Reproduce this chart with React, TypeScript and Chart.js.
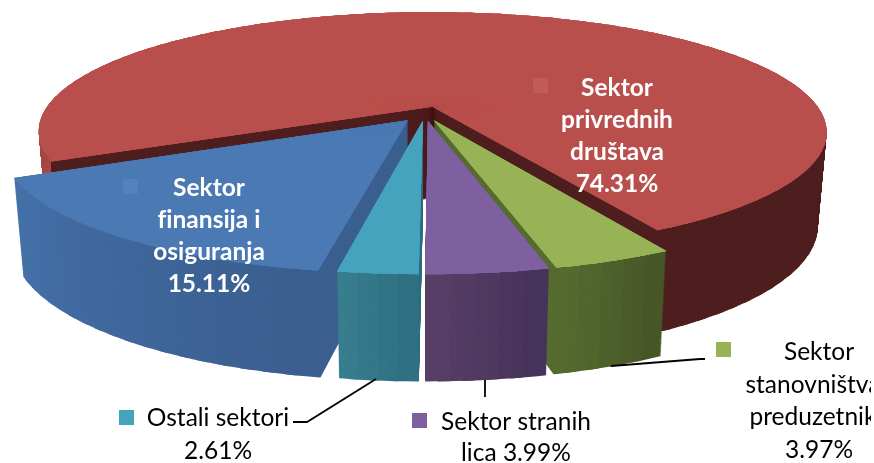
import React, { useEffect, useRef } from "react";
import { Chart, registerables } from "chart.js";

Chart.register(...registerables);

const categories = ["Sektor privrednih društava", "Sektor stanovništva i preduzetnika", "Sektor stranih lica", "Ostali sektori", "Sektor finansija i osiguranja"];
const shares = [74.31, 3.97, 3.99, 2.61, 15.11];
const topColors = ["#b94f4c", "#97b356", "#7e60a0", "#46a3bd", "#4a79b3"];
const sideLeft = ["#4f1f1f", "#576d30", "#5a4068", "#398090", "#4572aa"];
const sideRight = ["#4f1f1f", "#465527", "#45335a", "#2e6e80", "#3b5e8e"];
const explodeBy = [0.062, 0.062, 0.062, 0.062, 0.072];
const paintOrder = [0, 4, 1, 2, 3];
const startDegrees = 244.2;

// Perspective camera used for the tilted, exploded disc
const view = { cx: 425, cy: 113.5, ax: 390, ay: 117.3, tilt: 0.212, depth: 92, depthPower: 0.6, converge: 0.022 };
const wedgeStep = (3 * Math.PI) / 180;
const layers = 120;
const paleRimColor = "#a84846";
const paleRimRight = 51;

const project = (u: number, v: number, z: number) => {
  const w = 1 - view.tilt * v;
  const s = 1 - view.converge * z;
  return [view.cx + (view.ax * u * s) / w, view.cy + (view.ay * v) / w + (view.depth * z) / Math.pow(w, view.depthPower)];
};

const mix = (a: string, b: string, t: number) => {
  const n = (h: string, i: number) => parseInt(h.slice(i, i + 2), 16);
  const c = [1, 3, 5].map((i) => Math.round(n(a, i) + (n(b, i) - n(a, i)) * t));
  return `rgb(${c[0]},${c[1]},${c[2]})`;
};

const drawSlab = (chart: any, ctx: CanvasRenderingContext2D, index: number) => {
  const arc = chart.getDatasetMeta(0).data[index];
  const saved = { s: arc.startAngle, e: arc.endAngle, c: arc.circumference, o: arc.options };
  const { x: cx, y: cy, outerRadius: R } = arc;
  const mid = (saved.s + saved.e) / 2;
  const eu = Math.cos(mid) * explodeBy[index];
  const ev = Math.sin(mid) * explodeBy[index];
  const count = Math.max(2, Math.ceil((saved.e - saved.s) / wedgeStep));
  const step = (saved.e - saved.s) / count;

  const paint = (a0: number, a1: number, z: number, color: string) => {
    const o = project(eu, ev, z);
    const p0 = project(eu + Math.cos(a0), ev + Math.sin(a0), z);
    const p1 = project(eu + Math.cos(a1), ev + Math.sin(a1), z);
    const d0 = [p0[0] - o[0], p0[1] - o[1]];
    const d1 = [p1[0] - o[0], p1[1] - o[1]];
    const det = Math.cos(a0) * Math.sin(a1) - Math.sin(a0) * Math.cos(a1);
    const X = [(d0[0] * Math.sin(a1) - d1[0] * Math.sin(a0)) / det, (d0[1] * Math.sin(a1) - d1[1] * Math.sin(a0)) / det];
    const Y = [(Math.cos(a0) * d1[0] - Math.cos(a1) * d0[0]) / det, (Math.cos(a0) * d1[1] - Math.cos(a1) * d0[1]) / det];
    ctx.save();
    ctx.transform(X[0] / R, X[1] / R, Y[0] / R, Y[1] / R, o[0] - (X[0] * cx + Y[0] * cy) / R, o[1] - (X[1] * cx + Y[1] * cy) / R);
    const end = Math.min(a1 + step * 0.5, saved.e);
    arc.startAngle = a0;
    arc.endAngle = end;
    arc.circumference = end - a0;
    arc.options = { backgroundColor: color, borderColor: color, borderWidth: 0, offset: 0, spacing: 0, circular: true, borderAlign: "center", borderRadius: 0, borderJoinStyle: "round", borderDash: [], borderDashOffset: 0, selfJoin: false };
    arc.draw(ctx);
    ctx.restore();
  };

  for (let l = layers; l >= 1; l--) {
    const z = l / layers;
    for (let i = 0; i < count; i++) {
      const a0 = saved.s + i * step;
      paint(a0, a0 + step, z, mix(sideLeft[index], sideRight[index], 1 - (i + 0.5) / count));
    }
  }
  if (index === 0) {
    // the far-left part of the large slice's wall catches the light
    ctx.save();
    ctx.beginPath();
    ctx.rect(0, 0, paleRimRight, 463);
    ctx.clip();
    for (let l = layers; l >= 1; l--) {
      for (let i = 0; i < count; i++) {
        const a0 = saved.s + i * step;
        if ((i + 0.5) / count < 0.2) paint(a0, a0 + step, l / layers, paleRimColor);
      }
    }
    ctx.restore();
  }
  for (let pass = 0; pass < 3; pass++) {
    for (let i = 0; i < count; i++) {
      const a0 = saved.s + i * step;
      paint(a0, a0 + step, 0, topColors[index]);
    }
  }
  arc.startAngle = saved.s;
  arc.endAngle = saved.e;
  arc.circumference = saved.c;
  arc.options = saved.o;
};

const whiteFont = "bold 24.5px Lato";
const blackFont = "24.5px Lato";
const insideLabels = [
  { lines: ["Sektor", "privrednih", "društava", "74.31%"], x: 617, y: 88, key: 540, keyY: 85, keyColor: "#bf5b58" },
  { lines: ["Sektor", "finansija i", "osiguranja", "15.11%"], x: 209, y: 188, key: 130, keyY: 186, keyColor: "#5282bb" },
];
const outsideLabels = [
  { lines: ["Sektor", "stanovništva i", "preduzetnika", "3.97%"], x: 819, y: 352, key: 723, keyY: 349, keyColor: topColors[1], gap: 32.7 },
  { lines: ["Sektor stranih", "lica 3.99%"], x: 516, y: 422, key: 419, keyY: 420, keyColor: topColors[2], gap: 31 },
  { lines: ["Ostali sektori", "2.61%"], x: 218, y: 418, key: 126, keyY: 417, keyColor: topColors[3], gap: 33 },
];
const leaders = [
  [[611, 366], [700, 359], [705, 359]],
  [[485, 380], [485, 397]],
  [[376, 379], [307, 422], [293, 422]],
];

const slabs = {
  id: "slabs",
  beforeDatasetDraw: () => false,
  afterDatasetsDraw(chart: any) {
    const ctx: CanvasRenderingContext2D = chart.ctx;
    paintOrder.forEach((i) => drawSlab(chart, ctx, i));

    ctx.save();
    ctx.strokeStyle = "#000";
    ctx.lineWidth = 1.8;
    leaders.forEach((path) => {
      ctx.beginPath();
      path.forEach(([x, y], i) => (i ? ctx.lineTo(x, y) : ctx.moveTo(x, y)));
      ctx.stroke();
    });
    ctx.restore();

    ctx.save();
    ctx.beginPath();
    ctx.rect(0, 0, 871, 463);
    ctx.clip();
    ctx.textAlign = "center";
    ctx.textBaseline = "middle";
    (ctx as any).textRendering = "optimizeSpeed";
    insideLabels.forEach((b) => {
      ctx.fillStyle = b.keyColor;
      ctx.fillRect(b.key - 7, b.keyY - 7, 15, 15);
      ctx.fillStyle = "#fff";
      ctx.font = whiteFont;
      b.lines.forEach((t, i) => ctx.fillText(t, b.x, b.y + i * 32));
    });
    outsideLabels.forEach((b) => {
      ctx.fillStyle = b.keyColor;
      ctx.fillRect(b.key - 7, b.keyY - 7, 15, 15);
      ctx.fillStyle = "#000";
      ctx.font = blackFont;
      b.lines.forEach((t, i) => ctx.fillText(t, b.x, b.y + i * b.gap));
    });
    ctx.restore();
  },
};

export default function App() {
  const ref = useRef<HTMLCanvasElement>(null);
  useEffect(() => {
    const chart = new Chart(ref.current!, {
      type: "pie",
      data: {
        labels: categories,
        datasets: [{ data: shares, backgroundColor: topColors, borderWidth: 0 }],
      },
      options: {
        animation: false,
        responsive: false,
        rotation: startDegrees,
        events: [],
        plugins: { legend: { display: false }, tooltip: { enabled: false } },
      },
      plugins: [slabs],
    });
    return () => chart.destroy();
  }, []);
  return <canvas ref={ref} width={874} height={463} style={{ position: "absolute", left: 0, top: 0, display: "block" }} />;
}
